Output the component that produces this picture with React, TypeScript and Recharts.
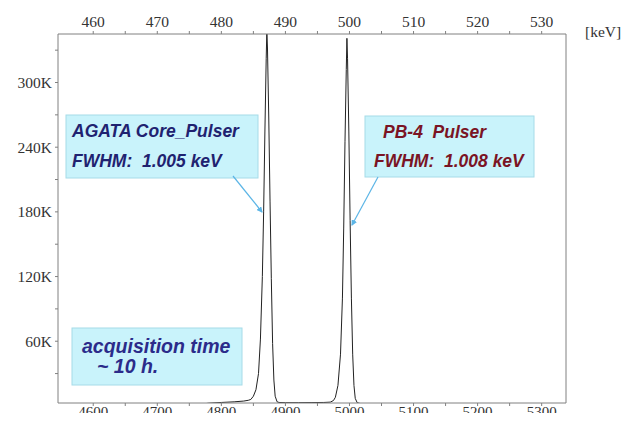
import React from 'react';
import { LineChart, Line, XAxis, YAxis } from 'recharts';

// Spectrum: channel numbers and counts
const channels = [
  4767, 4780, 4800, 4820, 4835, 4842, 4846, 4850, 4854, 4858, 4861, 4864, 4866, 4868, 4870, 4871,
  4872, 4874, 4876, 4878, 4880, 4882, 4884, 4887, 4890, 4900, 4920, 4940, 4960, 4970, 4975,
  4978, 4982, 4986, 4989, 4991, 4993, 4995, 4996, 4997, 4999, 5001, 5003, 5005, 5007, 5009,
  5012, 5018, 5022,
];
const counts = [
  1500, 2500, 3200, 3800, 4500, 5200, 6000, 9000, 15000, 30000, 62000, 120000, 180000, 255000, 322000, 348000,
  332000, 268000, 190000, 118000, 58000, 24000, 9000, 3800, 3200, 3000, 3000, 3100, 3200, 3500, 5000,
  8000, 19000, 48000, 100000, 165000, 245000, 312000, 341000, 322000, 255000, 172000, 100000, 48000, 19000, 7000,
  3000, 2000, 1500,
];

const xTicks = [4600, 4650, 4700, 4750, 4800, 4850, 4900, 4950, 5000, 5050, 5100, 5150, 5200, 5250, 5300];
const yTicks = [30000, 60000, 90000, 120000, 150000, 180000, 210000, 240000, 270000, 300000, 330000];

const annotation1 = ['AGATA Core_Pulser', 'FWHM:  1.005 keV'];
const annotation2 = ['PB-4  Pulser', 'FWHM:  1.008 keV'];
const annotation3 = ['acquisition time', '~ 10 h.'];
const unitLabel = '[keV]';

const data = channels.map((ch, i) => ({ ch, n: counts[i] }));

const serif = 'Liberation Serif, Times New Roman, serif';
const sans = 'Liberation Sans, Arial, sans-serif';
const axisColor = '#808080';
const tickStyle = { fontFamily: serif, fontSize: 15.5, fill: '#333' };

const topFmt = (v: number) => (v % 100 === 0 ? String(v / 10) : '');
const yFmt = (v: number) => (v % 60000 === 0 ? `${v / 1000}K` : '');

const BottomTick = (props: any) => {
  const { x, payload } = props;
  const v = payload.value as number;
  if (v % 100 !== 0) return <g />;
  return (
    <text x={x} y={417} textAnchor="middle" fontFamily={serif} fontSize={15} fill="#333">
      {String(v)}
    </text>
  );
};

export default function App() {
  const boxFill = '#c9f3fb';
  const boxStroke = '#a6dbe8';
  const arrow = '#5cb5e6';
  return (
    <div style={{ position: 'relative', width: 633, height: 421, margin: -8, background: '#fff' }}>
      <LineChart
        width={633}
        height={421}
        data={data}
        margin={{ top: 0, right: 0, bottom: 0, left: 0 }}
      >
        <XAxis
          xAxisId="b"
          dataKey="ch"
          type="number"
          domain={[4545, 5338]}
          ticks={xTicks}
          allowDataOverflow
          height={18}
          tickSize={3}
          tickMargin={3}
          interval={0}
          stroke={axisColor}
          tick={<BottomTick />}
        />
        <XAxis
          xAxisId="t"
          orientation="top"
          dataKey="ch"
          type="number"
          domain={[4545, 5338]}
          ticks={xTicks}
          tickFormatter={topFmt}
          allowDataOverflow
          height={34}
          tickSize={3}
          tickMargin={4}
          interval={0}
          stroke={axisColor}
          tick={tickStyle}
        />
        <YAxis
          yAxisId="l"
          type="number"
          domain={[2700, 345000]}
          ticks={yTicks}
          tickFormatter={yFmt}
          allowDataOverflow
          width={58}
          tickSize={3}
          tickMargin={3}
          interval={0}
          stroke={axisColor}
          tick={tickStyle}
        />
        <YAxis
          yAxisId="r"
          orientation="right"
          type="number"
          domain={[2700, 345000]}
          width={67}
          tick={false}
          tickLine={false}
          stroke={axisColor}
        />
        <Line
          xAxisId="b"
          yAxisId="l"
          dataKey="n"
          type="linear"
          stroke="#222"
          strokeWidth={1}
          dot={false}
          isAnimationActive={false}
        />
      </LineChart>
      <svg
        width={633}
        height={421}
        style={{ position: 'absolute', left: 0, top: 0, pointerEvents: 'none' }}
      >
        <defs>
          <marker id="ah" markerWidth="6" markerHeight="6" refX="5" refY="3" orient="auto" markerUnits="userSpaceOnUse">
            <path d="M0,0 L6,3 L0,6 z" fill={arrow} />
          </marker>
        </defs>
        <text x={585} y={37} fontFamily={serif} fontSize={15.5} fill="#333">{unitLabel}</text>

        <rect x={66} y={115} width={192} height={63} fill={boxFill} stroke={boxStroke} strokeWidth={1} />
        <g fontFamily={sans} fontSize={17.5} fontWeight="bold" fontStyle="italic" fill="#1f2270">
          <text x={72} y={137}>{annotation1[0]}</text>
          <text x={72} y={167} style={{ whiteSpace: 'pre' }}>{annotation1[1]}</text>
        </g>
        <line x1={233} y1={176} x2={262} y2={212} stroke={arrow} strokeWidth={1.2} markerEnd="url(#ah)" />

        <rect x={365} y={116} width={169} height={61} fill={boxFill} stroke={boxStroke} strokeWidth={1} />
        <g fontFamily={sans} fontSize={17.5} fontWeight="bold" fontStyle="italic" fill="#7a1424">
          <text x={383} y={137.5} style={{ whiteSpace: 'pre' }}>{annotation2[0]}</text>
          <text x={374} y={167} style={{ whiteSpace: 'pre' }}>{annotation2[1]}</text>
        </g>
        <line x1={378} y1={177} x2={352} y2={225} stroke={arrow} strokeWidth={1.2} markerEnd="url(#ah)" />

        <rect x={72} y={328} width={170} height={57} fill={boxFill} stroke={boxStroke} strokeWidth={1} />
        <g fontFamily={sans} fontSize={19.5} fontWeight="bold" fontStyle="italic" fill="#2b2b8a">
          <text x={82} y={352.5}>{annotation3[0]}</text>
          <text x={97} y={372.5}>{annotation3[1]}</text>
        </g>
      </svg>
    </div>
  );
}
